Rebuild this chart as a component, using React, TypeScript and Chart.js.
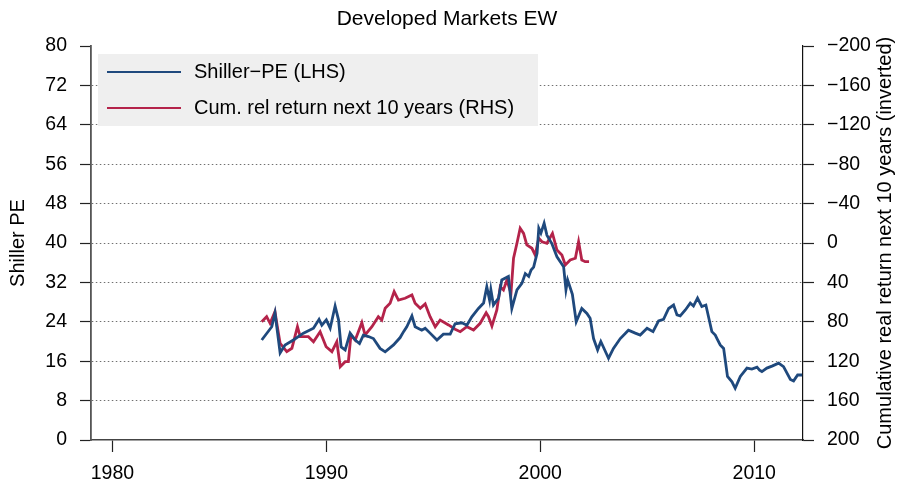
import React, { useEffect, useRef } from "react";
import { Chart, registerables } from "chart.js";

Chart.register(...registerables);

const TITLE = "Developed Markets EW";
const LEFT_TITLE = "Shiller PE";
const RIGHT_TITLE = "Cumulative real return next 10 years (inverted)";
const SERIES_NAMES = ["Shiller\u2212PE (LHS)", "Cum. rel return next 10 years (RHS)"];
const X_TICKS = [1980, 1990, 2000, 2010];

const peYears = [
  1986.98, 1987.45, 1987.6, 1987.84, 1988.07, 1988.46, 1988.93, 1989.4, 1989.66, 1989.79,
  1990.0, 1990.18, 1990.41, 1990.57, 1990.69, 1990.88, 1991.11, 1991.35, 1991.55, 1991.73,
  1991.97, 1992.2, 1992.51, 1992.75, 1993.14, 1993.45, 1993.61, 1993.76, 1994.0, 1994.15,
  1994.46, 1994.62, 1994.85, 1995.17, 1995.47, 1995.79, 1996.02, 1996.33, 1996.57, 1996.8,
  1997.11, 1997.35, 1997.5, 1997.63, 1997.69, 1997.81, 1998.05, 1998.2, 1998.51, 1998.67,
  1998.91, 1999.14, 1999.3, 1999.46, 1999.57, 1999.69, 1999.85, 1999.93, 2000.03, 2000.18,
  2000.31, 2000.54, 2000.78, 2001.09, 2001.2, 2001.28, 2001.5, 2001.68, 2001.94, 2002.18,
  2002.33, 2002.49, 2002.68, 2002.83, 2003.19, 2003.42, 2003.74, 2004.12, 2004.44, 2004.67,
  2004.99, 2005.27, 2005.53, 2005.76, 2006.0, 2006.23, 2006.39, 2006.54, 2006.78, 2007.01,
  2007.16, 2007.35, 2007.55, 2007.74, 2008.02, 2008.18, 2008.26, 2008.41, 2008.57, 2008.75,
  2008.96, 2009.11, 2009.35, 2009.66, 2009.89, 2010.13, 2010.25, 2010.36, 2010.59, 2010.83,
  2011.14, 2011.37, 2011.69, 2011.84, 2012.03, 2012.24,
];
const peValues = [
  20.3, 23.0, 25.8, 17.7, 19.3, 20.3, 21.7, 22.7, 24.5, 23.3,
  24.4, 22.7, 27.2, 24.4, 18.9, 18.3, 21.7, 20.3, 19.6, 21.3,
  21.0, 20.6, 18.6, 17.9, 19.3, 20.8, 22.0, 23.0, 25.2, 23.0,
  22.3, 22.7, 21.7, 20.3, 21.5, 21.5, 23.6, 23.8, 23.3, 25.0,
  26.7, 27.8, 31.1, 28.4, 30.5, 27.4, 28.8, 32.5, 33.2, 26.7,
  30.5, 31.8, 33.8, 33.2, 34.5, 35.1, 37.9, 43.0, 42.0, 44.0,
  41.6, 39.9, 37.2, 35.2, 30.5, 32.5, 29.6, 24.0, 26.7, 25.7,
  24.7, 20.6, 18.3, 20.0, 16.6, 18.6, 20.6, 22.3, 21.7, 21.3,
  22.7, 22.0, 24.2, 24.5, 26.7, 27.4, 25.4, 25.2, 26.4, 27.8,
  27.2, 28.8, 27.1, 27.4, 22.0, 21.3, 20.6, 19.3, 18.6, 12.9,
  11.8, 10.5, 12.9, 14.6, 14.4, 14.8, 14.2, 13.9, 14.6, 15.0,
  15.6, 14.9, 12.3, 12.0, 13.2, 13.2,
];

const retYears = [
  1986.98, 1987.21, 1987.37, 1987.6, 1987.71, 1987.84, 1988.15, 1988.39, 1988.65, 1988.78,
  1989.16, 1989.4, 1989.71, 1989.99, 1990.26, 1990.49, 1990.65, 1990.88, 1991.03, 1991.15,
  1991.35, 1991.66, 1991.81, 1992.13, 1992.43, 1992.59, 1992.75, 1992.98, 1993.17, 1993.37,
  1993.68, 1994.0, 1994.15, 1994.39, 1994.62, 1994.85, 1995.09, 1995.32, 1995.71, 1996.02,
  1996.26, 1996.57, 1996.88, 1997.19, 1997.47, 1997.58, 1997.74, 1997.97, 1998.13, 1998.28,
  1998.44, 1998.63, 1998.75, 1998.91, 1999.06, 1999.22, 1999.37, 1999.61, 1999.76, 1999.93,
  2000.08, 2000.31, 2000.57, 2000.78, 2001.01, 2001.17, 2001.4, 2001.64, 2001.79, 2001.94,
  2002.1, 2002.28,
];
const retValues = [
  79.9, 74.8, 81.5, 69.7, 85.0, 101.8, 110.3, 106.9, 85.0, 95.1,
  95.1, 100.2, 90.0, 105.3, 110.3, 100.2, 125.6, 120.5, 120.5, 93.4,
  98.5, 80.9, 93.4, 85.0, 74.8, 78.2, 66.3, 61.2, 49.4, 57.9,
  56.1, 52.8, 61.2, 66.3, 61.9, 74.8, 85.0, 78.2, 83.2, 87.6,
  90.0, 85.0, 88.3, 81.5, 70.8, 74.8, 84.3, 68.0, 44.4, 47.7,
  37.6, 51.1, 15.5, 0.3, -14.9, -9.8, 2.0, 5.4, 12.2, -4.8,
  -1.3, 0.3, -9.8, 7.1, 12.2, 22.3, 17.3, 15.5, -1.3, 17.3,
  19.0, 19.0,
];

const BLUE = "#1f497d";
const RED = "#b4234a";
const FONT = '"Liberation Sans", Arial, Helvetica, sans-serif';

export default function App() {
  const ref = useRef<HTMLCanvasElement>(null);

  useEffect(() => {
    const canvas = ref.current;
    if (!canvas) return;

    const overlay = {
      id: "overlay",
      afterDraw(chart: any) {
        const ctx = chart.ctx as CanvasRenderingContext2D;
        const ca = chart.chartArea;
        const midY = (ca.top + ca.bottom) / 2;
        ctx.save();
        ctx.fillStyle = "#000";
        ctx.textAlign = "center";
        ctx.textBaseline = "middle";
        ctx.font = `21px ${FONT}`;
        ctx.fillText(TITLE, (ca.left + ca.right) / 2, 19);

        ctx.font = `20px ${FONT}`;
        ctx.save();
        ctx.translate(18, midY);
        ctx.rotate(-Math.PI / 2);
        ctx.fillText(LEFT_TITLE, 0, 0);
        ctx.restore();

        ctx.save();
        ctx.translate(885, midY);
        ctx.rotate(-Math.PI / 2);
        ctx.fillText(RIGHT_TITLE, 0, 0);
        ctx.restore();

        // legend
        const lx = ca.left + 7;
        const ly = ca.top + 8;
        ctx.fillStyle = "#efefef";
        ctx.fillRect(lx, ly, 440, 72);
        const colors = [BLUE, RED];
        SERIES_NAMES.forEach((name, i) => {
          const y = ly + 18 + i * 36;
          ctx.strokeStyle = colors[i];
          ctx.lineWidth = 2.2;
          ctx.beginPath();
          ctx.moveTo(lx + 9, y);
          ctx.lineTo(lx + 83, y);
          ctx.stroke();
          ctx.fillStyle = "#000";
          ctx.textAlign = "left";
          ctx.font = `20px ${FONT}`;
          ctx.fillText(name, lx + 96, y);
        });
        ctx.restore();
      },
    };

    const chart = new Chart(canvas, {
      type: "line",
      data: {
        datasets: [
          {
            label: SERIES_NAMES[0],
            data: peYears.map((x, i) => ({ x, y: peValues[i] })),
            borderColor: BLUE,
            borderWidth: 2.8,
            pointRadius: 0,
            tension: 0,
            yAxisID: "y",
          },
          {
            label: SERIES_NAMES[1],
            data: retYears.map((x, i) => ({ x, y: retValues[i] })),
            borderColor: RED,
            borderWidth: 2.8,
            pointRadius: 0,
            tension: 0,
            yAxisID: "y1",
          },
        ],
      },
      options: {
        animation: false,
        responsive: false,
        devicePixelRatio: 1,
        layout: { padding: { top: 46, left: 0, right: 0, bottom: 0 } },
        plugins: {
          legend: { display: false },
          title: { display: false },
          tooltip: { enabled: false },
        },
        scales: {
          x: {
            type: "linear",
            min: 1979.0,
            max: 2012.28,
            afterBuildTicks: (scale: any) => {
              scale.ticks = X_TICKS.map((v) => ({ value: v }));
            },
            afterFit: (scale: any) => {
              scale.height = 46;
            },
            ticks: {
              font: { family: FONT, size: 19.5 },
              color: "#000",
              padding: 10,
              maxRotation: 0,
              callback: (v: any) => String(v),
            },
            grid: {
              drawOnChartArea: false,
              drawTicks: true,
              tickLength: 12,
              tickColor: "#222",
              tickWidth: 1.2,
            },
            border: { display: true, color: "#444", width: 1.5 },
          },
          y: {
            type: "linear",
            position: "left",
            min: 0,
            max: 80,
            ticks: {
              stepSize: 8,
              font: { family: FONT, size: 19.5 },
              color: "#000",
              padding: 13,
            },
            afterFit: (scale: any) => {
              scale.width = 91;
            },
            grid: {
              color: (ctx: any) =>
                ctx.tick && (ctx.tick.value === 0 || ctx.tick.value === 80) ? "rgba(0,0,0,0)" : "#707070",
              lineWidth: 1,
              drawTicks: true,
              tickLength: 11,
              tickColor: "#222",
              tickWidth: 1.2,
            },
            border: { display: true, color: "#555", width: 1.8, dash: [1.5, 2.5] },
          },
          y1: {
            type: "linear",
            position: "right",
            reverse: true,
            min: -200,
            max: 200,
            ticks: {
              stepSize: 40,
              font: { family: FONT, size: 19.5 },
              color: "#000",
              padding: 13,
              callback: (v: any) => String(v).replace("-", "\u2212"),
            },
            afterFit: (scale: any) => {
              scale.width = 98;
            },
            grid: {
              drawOnChartArea: false,
              drawTicks: true,
              tickLength: 11,
              tickColor: "#222",
              tickWidth: 1.2,
            },
            border: { display: true, color: "#111", width: 1.2 },
          },
        },
      },
      plugins: [overlay],
    } as any);

    return () => chart.destroy();
  }, []);

  return (
    <div style={{ position: "fixed", left: 0, top: 0, width: 901, height: 486, background: "#fff" }}>
      <canvas ref={ref} width={901} height={486} style={{ width: 901, height: 486, display: "block" }} />
    </div>
  );
}
